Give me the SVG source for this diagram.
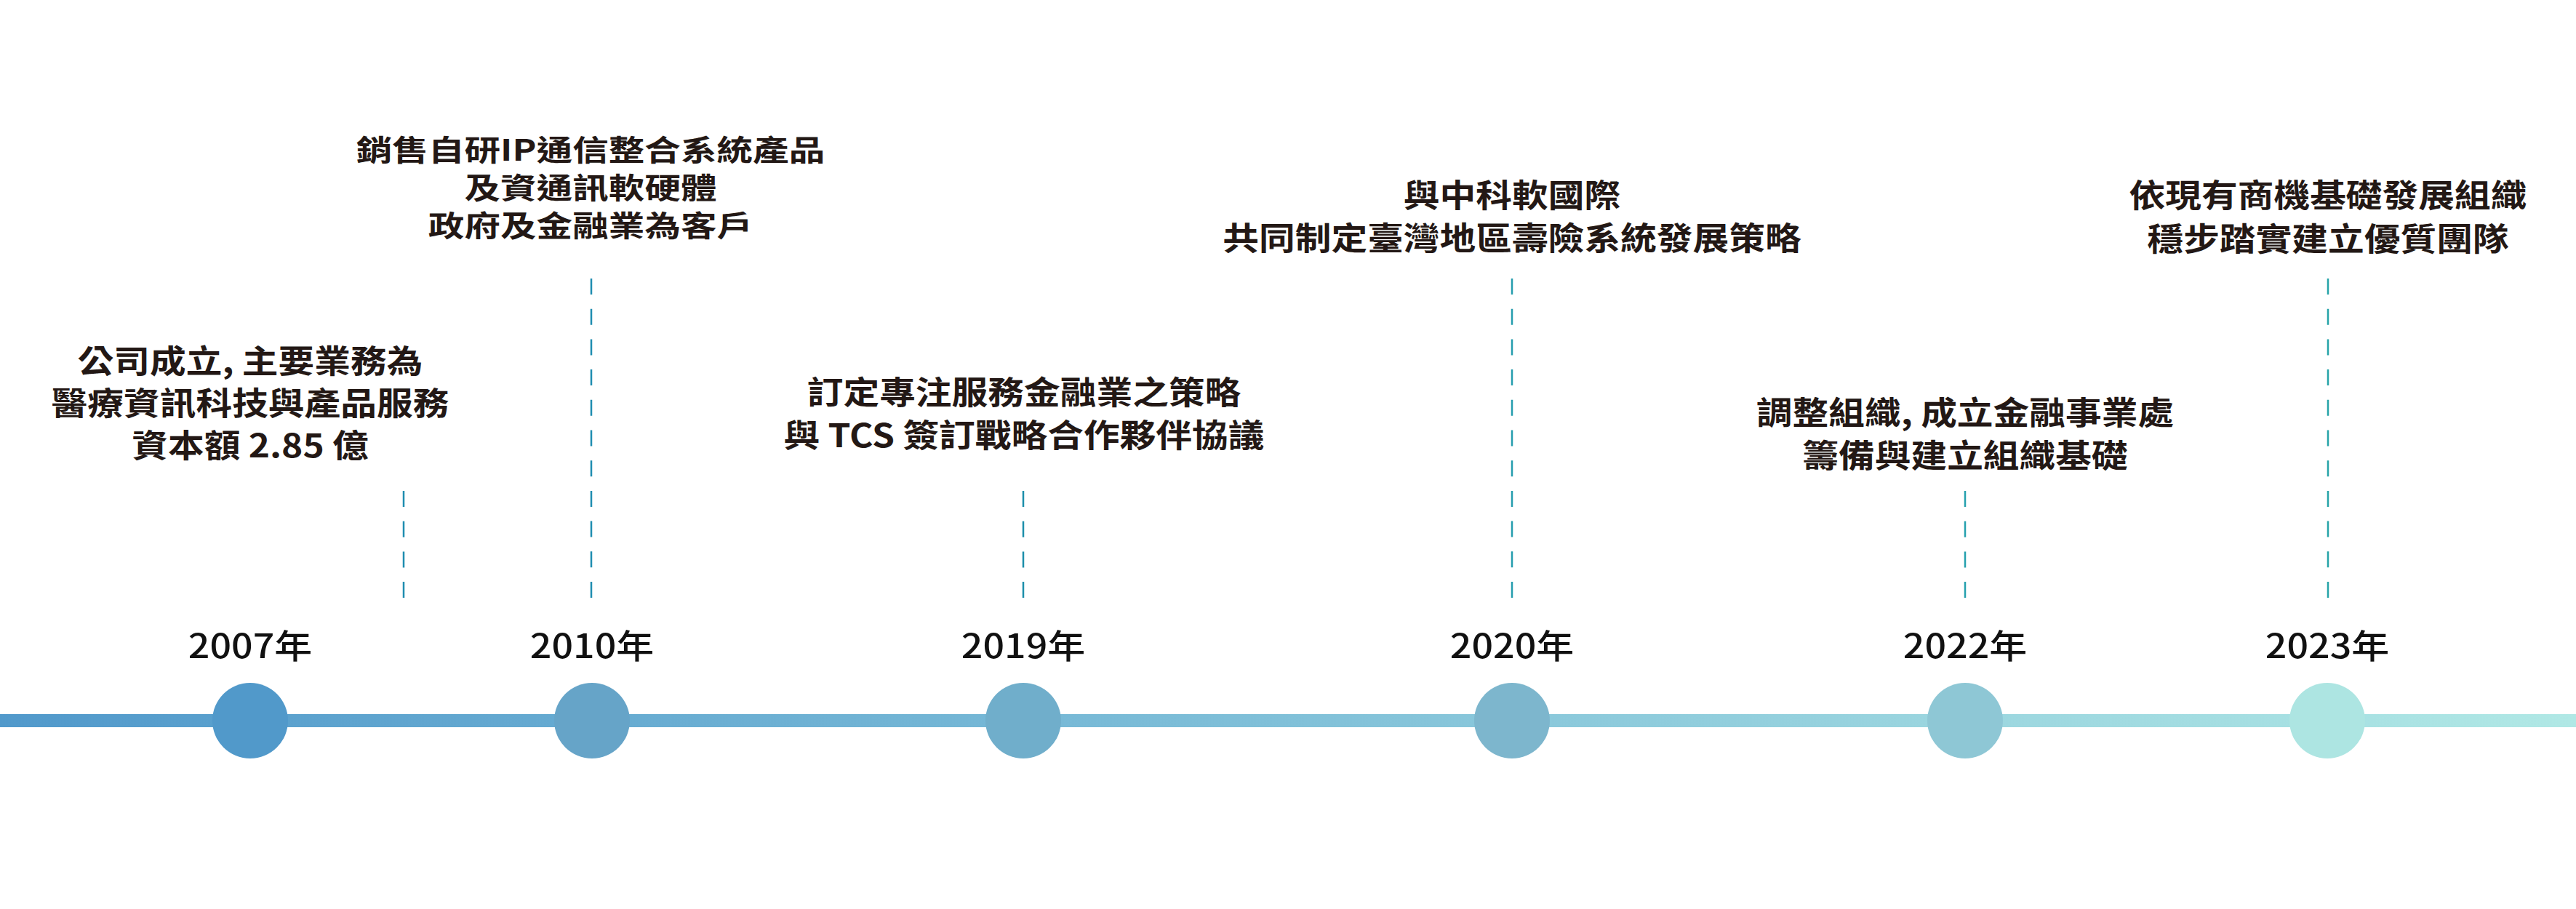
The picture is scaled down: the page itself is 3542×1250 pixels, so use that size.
<svg xmlns="http://www.w3.org/2000/svg" width="3542" height="1250" viewBox="0 0 3542 1250">
  <style>
    .t { font-family: "Noto Sans CJK TC", "Noto Sans", sans-serif; font-size: 44px; font-weight: 700; fill: #231815; text-anchor: middle; }
    .t2 { font-size: 40px; }
    .y { font-family: "Noto Sans CJK TC", "Noto Sans", sans-serif; font-size: 46px; font-weight: 500; fill: #111111; text-anchor: middle; }
    .d { fill: none; stroke-width: 2.5; stroke-dasharray: 22 19.7; }
  </style>
  <defs>
    <linearGradient id="lineGrad" x1="0" y1="0" x2="3542" y2="0" gradientUnits="userSpaceOnUse">
      <stop offset="0" stop-color="#5199cb"/>
      <stop offset="0.4" stop-color="#76b8d6"/>
      <stop offset="0.75" stop-color="#9ad5df"/>
      <stop offset="1" stop-color="#b0e8e5"/>
    </linearGradient>
  </defs>
  <rect width="3542" height="1250" fill="#ffffff"/>

  <g id="connectors">
    <rect x="0" y="982" width="3542" height="18" fill="url(#lineGrad)"/>
    <line class="d" x1="555" y1="675" x2="555" y2="822" stroke="#1f8db0"/>
    <line class="d" x1="813" y1="383" x2="813" y2="822" stroke="#1f8db0"/>
    <line class="d" x1="1407" y1="675" x2="1407" y2="822" stroke="#1c8eaa"/>
    <line class="d" x1="2079" y1="383" x2="2079" y2="822" stroke="#259dae"/>
    <line class="d" x1="2702" y1="675" x2="2702" y2="822" stroke="#25a0ae"/>
    <line class="d" x1="3201" y1="383" x2="3201" y2="822" stroke="#26a4a8"/>
  </g>

  <g id="node-2007">
    <circle cx="344" cy="991" r="52" fill="#5199ca"/>
    <text class="y" transform="translate(344,905) scale(1.13,1)">2007年</text>
    <g transform="translate(344,0) scale(1.13,1)">
      <text class="t" x="0" y="513">公司成立, 主要業務為</text>
      <text class="t" x="0" y="571">醫療資訊科技與產品服務</text>
      <text class="t" x="0" y="629">資本額 2.85 億</text>
    </g>
  </g>

  <g id="node-2010">
    <circle cx="814" cy="991" r="52" fill="#66a4c8"/>
    <text class="y" transform="translate(814,905) scale(1.13,1)">2010年</text>
    <g transform="translate(812,0) scale(1.24,1)">
      <text class="t t2" x="0" y="221">銷售自研IP通信整合系統產品</text>
      <text class="t t2" x="0" y="273">及資通訊軟硬體</text>
      <text class="t t2" x="0" y="325">政府及金融業為客戶</text>
    </g>
  </g>

  <g id="node-2019">
    <circle cx="1407" cy="991" r="52" fill="#70aecb"/>
    <text class="y" transform="translate(1407,905) scale(1.13,1)">2019年</text>
    <g transform="translate(1408,0) scale(1.13,1)">
      <text class="t" x="0" y="556">訂定專注服務金融業之策略</text>
      <text class="t" x="0" y="615">與 TCS 簽訂戰略合作夥伴協議</text>
    </g>
  </g>

  <g id="node-2020">
    <circle cx="2079" cy="991" r="52" fill="#7db6cd"/>
    <text class="y" transform="translate(2079,905) scale(1.13,1)">2020年</text>
    <g transform="translate(2079,0) scale(1.13,1)">
      <text class="t" x="0" y="285">與中科軟國際</text>
      <text class="t" x="0" y="344">共同制定臺灣地區壽險系統發展策略</text>
    </g>
  </g>

  <g id="node-2022">
    <circle cx="2702" cy="991" r="52" fill="#8ec7d5"/>
    <text class="y" transform="translate(2702,905) scale(1.13,1)">2022年</text>
    <g transform="translate(2702,0) scale(1.13,1)">
      <text class="t" x="0" y="584">調整組織, 成立金融事業處</text>
      <text class="t" x="0" y="643">籌備與建立組織基礎</text>
    </g>
  </g>

  <g id="node-2023">
    <circle cx="3200" cy="991" r="52" fill="#ade5e2"/>
    <text class="y" transform="translate(3200,905) scale(1.13,1)">2023年</text>
    <g transform="translate(3201,0) scale(1.13,1)">
      <text class="t" x="0" y="285">依現有商機基礎發展組織</text>
      <text class="t" x="0" y="345">穩步踏實建立優質團隊</text>
    </g>
  </g>
</svg>
